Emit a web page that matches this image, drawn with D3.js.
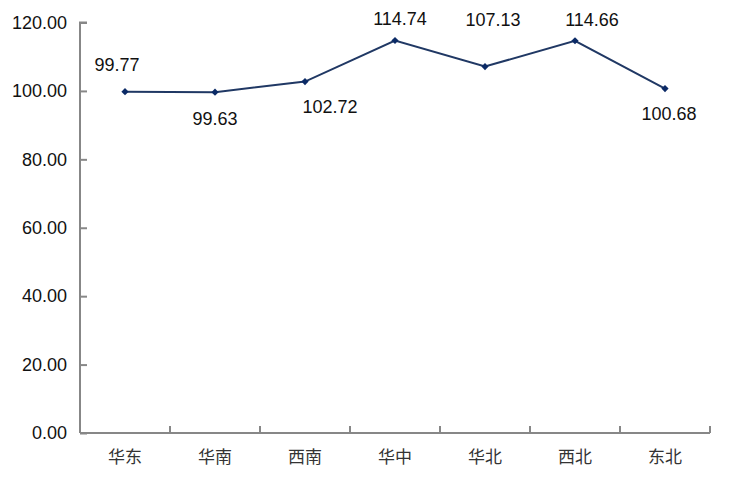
<!DOCTYPE html>
<html>
<head>
    <meta charset="utf-8">
    <title>Regional Index</title>
    <script src="https://cdnjs.cloudflare.com/ajax/libs/d3/7.8.5/d3.min.js"></script>
    <style>
        body { margin: 0; background: #fff; }
        .axis path, .axis line { stroke: #878787; stroke-width: 2px; }
        .axis text { font-family: "Liberation Sans", Arial, sans-serif; font-size: 18px; fill: #111; }
        .axis.x text { font-family: "Noto Sans CJK SC", sans-serif; font-size: 17px; fill: #333; }
        .label { font-family: "Liberation Sans", Arial, sans-serif; font-size: 18px; fill: #111; }
    </style>
</head>
<body>
<script type="text/javascript">
    var regions = ["华东", "华南", "西南", "华中", "华北", "西北", "东北"];
    var values = [99.77, 99.63, 102.72, 114.74, 107.13, 114.66, 100.68];
    var yTicks = [0, 20, 40, 60, 80, 100, 120];

    // label placement relative to each point (dx, dy of text centre)
    var labelShift = [[-8, -27], [0, 27], [25, 25], [5, -21], [8, -47], [17, -21], [4, 25]];

    var width = 730,
        height = 485,
        plotLeft = 80,
        plotRight = 710,
        plotTop = 22.5,
        plotBottom = 433;

    var x = d3.scaleBand()
        .domain(regions)
        .range([plotLeft, plotRight]);

    var y = d3.scaleLinear()
        .domain([0, 120])
        .range([plotBottom, plotTop]);

    var svg = d3.select("body").append("svg")
        .attr("width", width)
        .attr("height", height);

    var yAxis = d3.axisLeft(y)
        .tickValues(yTicks)
        .tickFormat(d3.format(".2f"))
        .tickSizeInner(-7)
        .tickSizeOuter(-7)
        .tickPadding(13);

    var xAxis = d3.axisBottom(x)
        .tickSize(0)
        .tickPadding(18);

    svg.append("g")
        .attr("class", "axis y")
        .attr("transform", "translate(" + plotLeft + ",0)")
        .call(yAxis)
        .call(function(g){ g.select(".domain").attr("d", "M7," + y(120) + "H0V" + plotBottom); });

    var gx = svg.append("g")
        .attr("class", "axis x")
        .attr("transform", "translate(0," + plotBottom + ")")
        .call(xAxis);
    gx.select(".domain").attr("d", "M" + plotLeft + ",0H" + plotRight);

    // category boundary ticks pointing up
    gx.selectAll("line.sep")
        .data(regions.concat([null]))
        .enter().append("line")
        .attr("class", "sep")
        .attr("x1", function(d, i){ return plotLeft + i * x.step(); })
        .attr("x2", function(d, i){ return plotLeft + i * x.step(); })
        .attr("y1", 0)
        .attr("y2", -7);

    var cx = function(d, i){ return x(regions[i]) + x.bandwidth() / 2; };

    var line = d3.line()
        .x(cx)
        .y(function(d){ return y(d); });

    svg.append("path")
        .datum(values)
        .attr("d", line)
        .attr("fill", "none")
        .attr("stroke", "#203864")
        .attr("stroke-width", 2);

    svg.selectAll("path.dot")
        .data(values)
        .enter().append("path")
        .attr("class", "dot")
        .attr("d", d3.symbol().type(d3.symbolSquare).size(26))
        .attr("transform", function(d, i){ return "translate(" + cx(d, i) + "," + y(d) + ") rotate(45)"; })
        .attr("fill", "#0b2a66");

    svg.selectAll("text.label")
        .data(values)
        .enter().append("text")
        .attr("class", "label")
        .attr("text-anchor", "middle")
        .attr("dominant-baseline", "central")
        .attr("x", function(d, i){ return cx(d, i) + labelShift[i][0]; })
        .attr("y", function(d, i){ return y(d) + labelShift[i][1]; })
        .text(function(d){ return d3.format(".2f")(d); });
</script>
</body>
</html>
